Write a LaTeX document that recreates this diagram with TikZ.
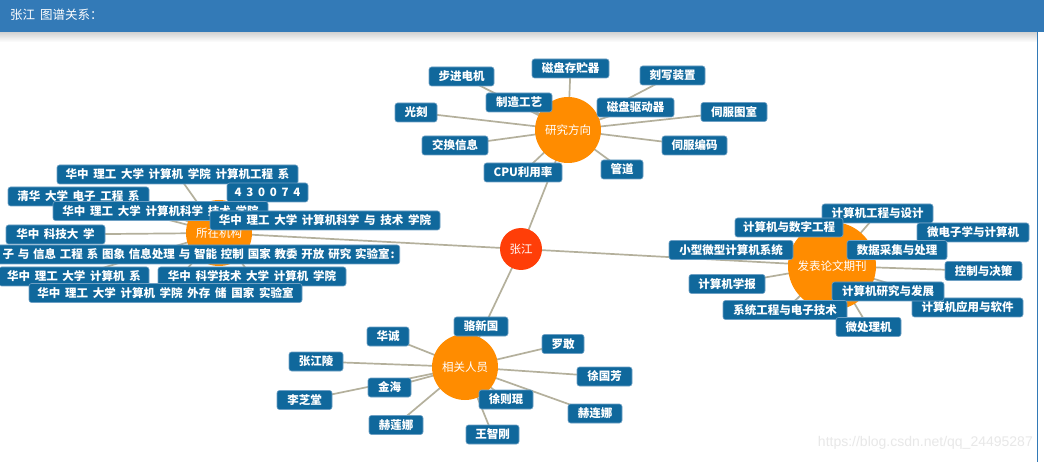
\documentclass[tikz,border=0pt]{standalone}
\usepackage{fontspec}
\newfontfamily\cjk[WordSpace=1.8]{Noto Sans CJK SC}
\newfontfamily\wmfont{Liberation Sans}
\definecolor{headblue}{RGB}{51,122,183}
\definecolor{lblblue}{RGB}{16,104,156}
\definecolor{lblborder}{RGB}{110,160,196}
\definecolor{huborange}{RGB}{255,140,0}
\definecolor{centerred}{RGB}{255,62,8}
\definecolor{edgecol}{RGB}{180,176,156}
\pgfdeclarelayer{bglayer}
\pgfdeclarelayer{edgelayer}
\pgfsetlayers{bglayer,edgelayer,main}
\tikzset{
  lbl/.style={rectangle, rounded corners=2.5pt, fill=lblblue, draw=lblborder, line width=0.6pt,
    text=white, font=\cjk\bfseries\fontsize{11.5}{12}\selectfont, inner xsep=3pt, inner ysep=0pt,
    minimum height=19pt},
  hub/.style={circle, fill=huborange, text=white, font=\cjk\fontsize{11.5}{12}\selectfont, inner sep=0pt},
  link/.style={draw=edgecol, line width=1.7pt}
}
\begin{document}
\begin{tikzpicture}[x=1pt,y=-1pt]
\useasboundingbox (0,0) rectangle (1044,462);
\begin{pgfonlayer}{bglayer}
  \fill[white] (0,0) rectangle (1044,462);
  \shade[top color=black!18, bottom color=white] (0,32) rectangle (1037,42);
  \fill[headblue] (0,0) rectangle (1044,32);
  \draw[headblue, line width=1.5pt] (1037.5,32) -- (1037.5,462);
\end{pgfonlayer}
\node[anchor=west, text=white, font=\cjk\fontsize{12.5}{13}\selectfont, inner sep=0pt] (title) at (10,14.5) {张江 图谱关系：};
\node[anchor=east, text=black!9, font=\wmfont\fontsize{14}{15}\selectfont, inner sep=0pt] (wm) at (1033,443) {https://blog.csdn.net/qq\_24495287};

% hubs
\node[hub, fill=centerred, minimum size=42pt] (zj) at (521,249) {张江};
\node[hub, minimum size=66pt] (rh) at (568,130) {研究方向};
\node[hub, minimum size=66pt] (lh) at (219,233) {所在机构};
\node[hub, minimum size=88pt] (jh) at (832,266) {发表论文期刊};
\node[hub, minimum size=66pt] (ph) at (465,367) {相关人员};

% research directions
\node[lbl, minimum width=65] (r1) at (461.5,76.5) {步进电机};
\node[lbl, minimum width=77] (r2) at (570.5,68.5) {磁盘存贮器};
\node[lbl, minimum width=65] (r3) at (672.5,75.5) {刻写装置};
\node[lbl, minimum width=66] (r4) at (519,102.5) {制造工艺};
\node[lbl, minimum width=77] (r5) at (635.5,107.5) {磁盘驱动器};
\node[lbl, minimum width=42] (r6) at (416,112.5) {光刻};
\node[lbl, minimum width=66] (r7) at (734,112) {伺服图室};
\node[lbl, minimum width=65] (r8) at (694.5,145.5) {伺服编码};
\node[lbl, minimum width=66] (r9) at (455,145.5) {交换信息};
\node[lbl, minimum width=78] (r10) at (523,172.5) {CPU利用率};
\node[lbl, minimum width=42] (r11) at (622,169.5) {管道};

% institutions
\node[lbl, minimum width=241] (l1) at (177.5,174.5) {华中 理工 大学 计算机 学院 计算机工程 系};
\node[lbl, minimum width=81] (l2) at (267.5,192.5) {4 3 0 0 7 4};
\node[lbl, minimum width=141] (l3) at (78.5,196.5) {清华 大学 电子 工程 系};
\node[lbl, minimum width=215] (l4) at (160.5,211) {华中 理工 大学 计算机科学 技术 学院};
\node[lbl, minimum width=230] (l5) at (325,220.5) {华中 理工 大学 计算机科学 与 技术 学院};
\node[lbl, minimum width=99] (l6) at (55.5,234.5) {华中 科技大 学};
\node[lbl, anchor=east, inner xsep=5pt, text width=440pt, align=right] (l7) at (400,254.5) {子 与 信息 工程 系 图象 信息处理 与 智能 控制 国家 教委 开放 研究 实验室\hspace{1pt}:};
\node[lbl, minimum width=150] (l8) at (74,276.5) {华中 理工 大学 计算机 系};
\node[lbl, minimum width=188] (l9) at (252,276.5) {华中 科学技术 大学 计算机 学院};
\node[lbl, minimum width=273] (l10) at (165.5,293) {华中 理工 大学 计算机 学院 外存 储 国家 实验室};

% journals
\node[lbl, minimum width=111] (j1) at (877.5,213.5) {计算机工程与设计};
\node[lbl, minimum width=108] (j2) at (789,227.5) {计算机与数字工程};
\node[lbl, minimum width=112] (j3) at (973,232.5) {微电子学与计算机};
\node[lbl, minimum width=100] (j4) at (897,250) {数据采集与处理};
\node[lbl, minimum width=124] (j5) at (731,250) {小型微型计算机系统};
\node[lbl, minimum width=77] (j6) at (983.5,271) {控制与决策};
\node[lbl, minimum width=76] (j7) at (727,284) {计算机学报};
\node[lbl, minimum width=111] (j8) at (967.5,307.5) {计算机应用与软件};
\node[lbl, minimum width=112] (j9) at (888,291.5) {计算机研究与发展};
\node[lbl, minimum width=124] (j10) at (785,310) {系统工程与电子技术};
\node[lbl, minimum width=65] (j11) at (868.5,327) {微处理机};

% people
\node[lbl, minimum width=54] (p1) at (481,326.5) {骆新国};
\node[lbl, minimum width=42] (p2) at (388,336.5) {华诚};
\node[lbl, minimum width=42] (p3) at (563,344) {罗敢};
\node[lbl, minimum width=54] (p4) at (316,361.5) {张江陵};
\node[lbl, minimum width=55] (p5) at (604.5,376.5) {徐国芳};
\node[lbl, minimum width=43] (p6) at (389.5,387.5) {金海};
\node[lbl, minimum width=55] (p7) at (304.5,400) {李芝堂};
\node[lbl, minimum width=54] (p8) at (506,399.5) {徐则琨};
\node[lbl, minimum width=54] (p9) at (595,413.5) {赫连娜};
\node[lbl, minimum width=54] (p10) at (396,425) {赫莲娜};
\node[lbl, minimum width=53] (p11) at (492.5,434.5) {王智刚};

\begin{pgfonlayer}{edgelayer}
  \foreach \h in {rh,lh,jh,ph} \draw[link] (zj.center) -- (\h.center);
  \foreach \t in {r1,r2,r3,r4,r5,r6,r7,r8,r9,r10,r11} \draw[link] (rh.center) -- (\t.center);
  \foreach \t in {l1,l2,l3,l4,l5,l6,l8,l9,l10} \draw[link] (lh.center) -- (\t.center);
  \draw[link] (lh) -- (l7);
  \foreach \t in {j1,j2,j3,j4,j5,j6,j7,j8,j9,j10,j11} \draw[link] (jh.center) -- (\t.center);
  \foreach \t in {p1,p2,p3,p4,p5,p6,p7,p8,p9,p10,p11} \draw[link] (ph.center) -- (\t.center);
\end{pgfonlayer}
\end{tikzpicture}
\end{document}
